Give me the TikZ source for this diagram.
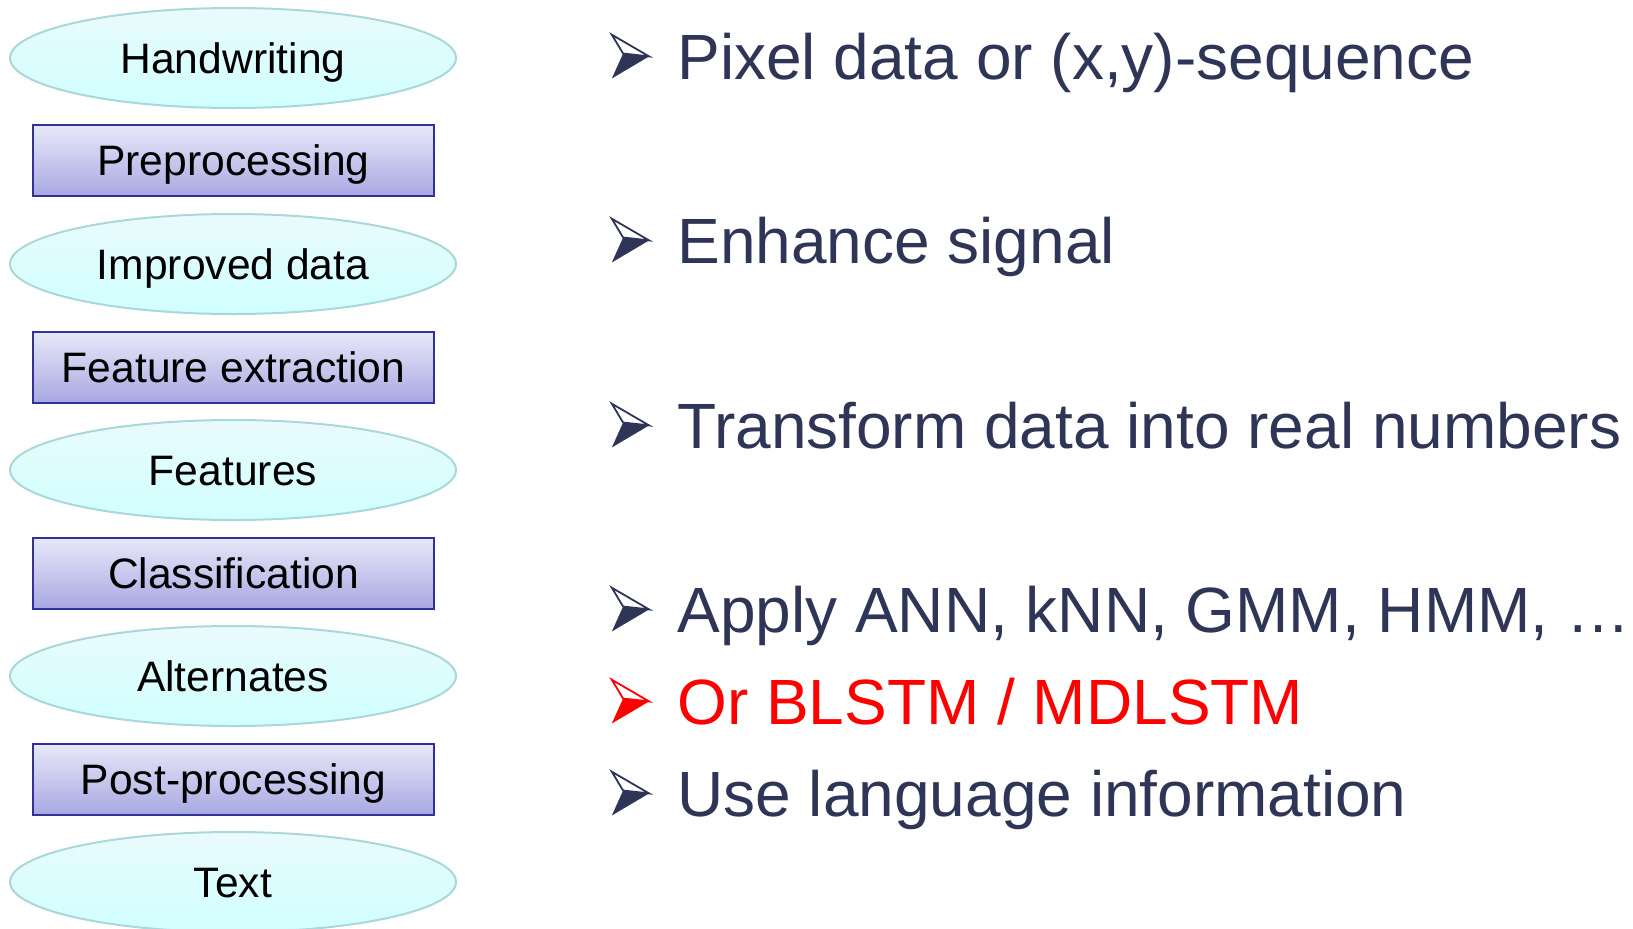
\documentclass[tikz,border=0pt]{standalone}
\usepackage{fontspec}
\setmainfont{Liberation Sans}
\usetikzlibrary{shapes.geometric}

\definecolor{navy}{RGB}{46,53,86}
\definecolor{ellline}{RGB}{170,216,218}
\definecolor{elltop}{RGB}{234,251,252}
\definecolor{ellbot}{RGB}{208,255,255}
\definecolor{boxline}{RGB}{50,50,150}
\definecolor{boxtop}{RGB}{232,232,249}
\definecolor{boxbot}{RGB}{168,168,226}
\definecolor{hot}{RGB}{255,0,0}

\tikzset{
  stage/.style={ellipse, draw=ellline, line width=1pt,
    top color=elltop, bottom color=ellbot,
    minimum width=223pt, minimum height=50pt, inner sep=0pt,
    font=\fontsize{21.3pt}{24pt}\selectfont, text=black,
    text height=15.25pt, text depth=0pt},
  proc/.style={rectangle, draw=boxline, line width=1pt,
    top color=boxtop, bottom color=boxbot,
    minimum width=200.5pt, minimum height=35.5pt, inner sep=0pt,
    font=\fontsize{21.3pt}{24pt}\selectfont, text=black,
    text height=15.25pt, text depth=0pt},
  point/.style={anchor=base west, inner sep=0pt,
    font=\fontsize{32pt}{36pt}\selectfont, text=navy},
  % arrowhead bullet: outlined upper half, filled lower half
  bullet/.pic={
    \draw[line width=0.9pt, line join=miter]
      (0.3,-44.3) -- (37.6,-22.6) -- (11.6,-25.5) -- cycle;
    \fill (11.6,-25.5) -- (37.6,-22.6) -- (0.3,-0.5) -- cycle;
  }
}

\begin{document}
\begin{tikzpicture}[x=0.5pt, y=-0.5pt]
\useasboundingbox (0,0) rectangle (1633,928);

% processing chain
\node[stage] (hw)   at (233,58)    {Handwriting};
\node[proc]  (pre)  at (233.5,160.5) {Preprocessing};
\node[stage] (imp)  at (233,264)   {Improved data};
\node[proc]  (fex)  at (233.5,367) {Feature extraction};
\node[stage] (feat) at (233,470)   {Features};
\node[proc]  (cls)  at (233.5,573) {Classification};
\node[stage] (alt)  at (233,676)   {Alternates};
\node[proc]  (post) at (233.5,779) {Post-processing};
\node[stage] (txt)  at (233,882)   {Text};

% explanations
\pic[navy] at (611.5,79)  {bullet};
\node[point] (p1) at (677,79)  {Pixel data or (x,y)-sequence};
\pic[navy] at (611.5,263) {bullet};
\node[point] (p2) at (677,263) {Enhance signal};
\pic[navy] at (611.5,448) {bullet};
\node[point] (p3) at (677,448) {Transform data into real numbers};
\pic[navy] at (611.5,632) {bullet};
\node[point] (p4) at (677,632) {Apply ANN, kNN, GMM, HMM, …};
\pic[hot] at (611.5,724)  {bullet};
\node[point, text=hot] (p5) at (677,724) {Or BLSTM / MDLSTM};
\pic[navy] at (611.5,816) {bullet};
\node[point] (p6) at (677,816) {Use language information};
\end{tikzpicture}
\end{document}
